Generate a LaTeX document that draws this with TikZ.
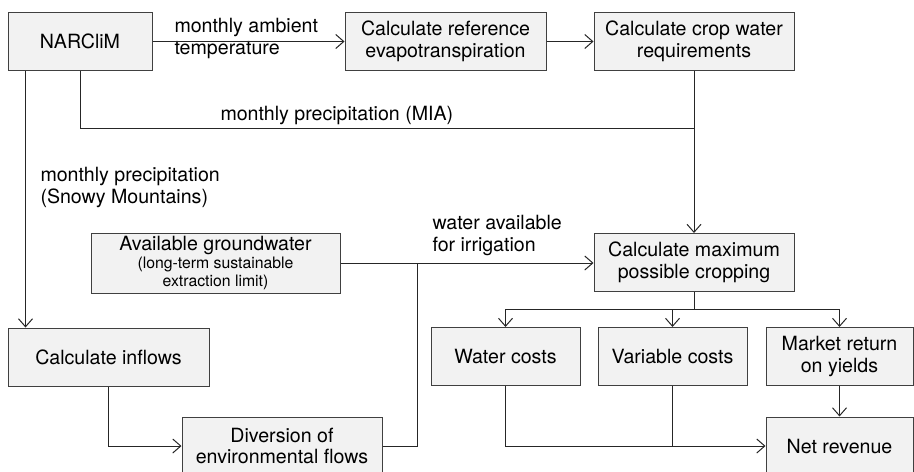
\documentclass[tikz,border=0pt]{standalone}
\usepackage{fontspec}
\setmainfont{TeX Gyre Heros}
\usetikzlibrary{arrows.meta}
\newcommand{\smalltxt}[1]{{\fontsize{7.9}{8.6}\selectfont #1}}
\begin{document}
\begin{tikzpicture}[x=0.5pt,y=-0.5pt,line width=0.5pt,
    box/.style={draw=black!75,fill=black!5,minimum height=29pt,inner sep=0pt,
      align=center,font=\fontsize{9.8}{10.8}\selectfont},
    lbl/.style={inner sep=0pt,align=left,font=\fontsize{9.8}{11}\selectfont},
    link/.style={draw=black!85},
    arr/.style={link,-{Straight Barb[length=4pt,width=7pt]}}]
  \useasboundingbox (0,0) rectangle (914,471);
  % boxes
  \node (narc) [box,minimum width=72pt] at (80,41.5) {NARCliM};
  \node (evap) [box,minimum width=100.5pt] at (445.5,41.5) {Calculate reference\\evapotranspiration};
  \node (crop) [box,minimum width=100pt] at (694,41.5) {Calculate crop water\\requirements};
  \node (gw) [box,minimum width=124.5pt,minimum height=30pt] at (215.5,263)
    {Available groundwater\\[-2pt]\smalltxt{(long-term sustainable}\\[-2pt]\smalltxt{extraction limit)}};
  \node (maxc) [box,minimum width=100pt] at (694,262.5) {Calculate maximum\\possible cropping};
  \node (inflow) [box,minimum width=100.5pt] at (108.5,357) {Calculate inflows};
  \node (wcost) [box,minimum width=74.5pt] at (505.5,356.5) {Water costs};
  \node (vcost) [box,minimum width=74.5pt] at (672.5,356.5) {Variable costs};
  \node (market) [box,minimum width=73.5pt] at (839.5,356.5) {Market return\\on yields};
  \node (div) [box,minimum width=100pt] at (282,446) {Diversion of\\environmental flows};
  \node (net) [box,minimum width=73.5pt] at (839.5,446) {Net revenue};
  % labels
  \node (ltemp) [lbl,anchor=west] at (174,38) {monthly ambient\\temperature};
  \node (lmia) [lbl,anchor=south west] at (220,125) {monthly precipitation (MIA)};
  \node (lsnow) [lbl,anchor=west] at (40,187) {monthly precipitation\\(Snowy Mountains)};
  \node (lwater) [lbl,anchor=west] at (432,235) {water available\\for irrigation};
  % junctions
  \coordinate (jmia) at (694,128);
  \coordinate (jwat) at (417,263);
  \coordinate (jbr) at (694,309);
  % connectors
  \draw[arr] (narc) -- (evap);
  \draw[arr] (evap) -- (crop);
  \draw[arr] (crop) -- (maxc);
  \draw[link] (narc.south) |- (jmia);
  \draw[arr] ([xshift=9pt]narc.south west) -- ([xshift=9pt]inflow.north west);
  \draw[arr] (inflow.south) |- (div.west);
  \draw[link] (div.east) -| (jwat);
  \draw[link] (gw.east) -- (jwat);
  \draw[arr] (jwat) -- (jwat -| maxc.west);
  \draw[link] (maxc.south) -- (jbr);
  \draw[arr] (jbr) -| (wcost.north);
  \draw[arr] (jbr) -| (vcost.north);
  \draw[arr] (jbr) -| (market.north);
  \draw[arr] (wcost.south) |- (net.west);
  \draw[link] (vcost.south) -- (vcost.south |- net.west);
  \draw[arr] (market) -- (net);
\end{tikzpicture}
\end{document}
